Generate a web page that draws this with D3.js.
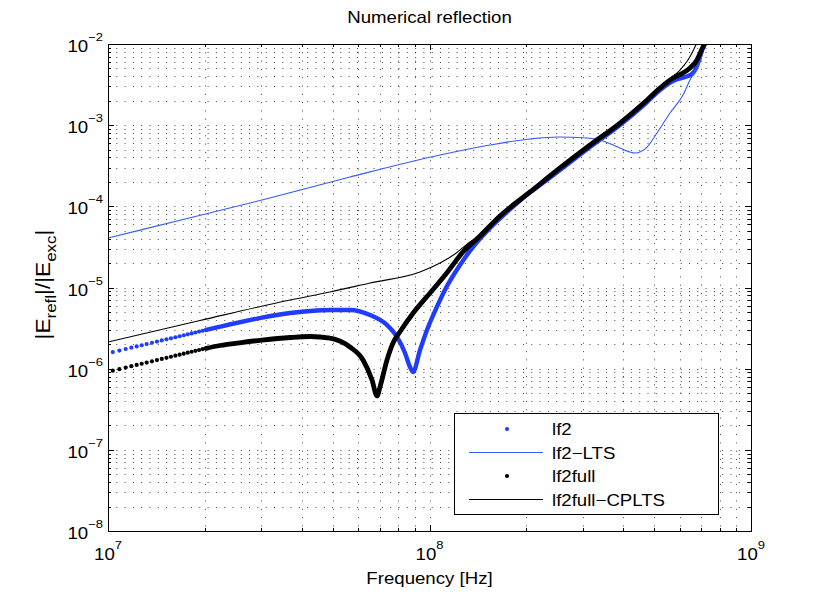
<!DOCTYPE html>
<html>
<head>
<meta charset="utf-8">
<script src="https://cdn.jsdelivr.net/npm/d3@7"></script>
<style>
  body { margin: 0; background: #fff; }
  svg text { font-family: "Liberation Sans", Arial, Helvetica, sans-serif; fill: #000; }
</style>
</head>
<body>
<div id="chart"></div>
<script>
// ---- data ----
// lf2 / lf2full: sparse leading markers (individual dots visible)
const sparseFreq = [1.035e7, 1.085e7, 1.135e7, 1.182e7, 1.228e7, 1.273e7, 1.319e7, 1.37e7, 1.42e7, 1.47e7,
  1.52e7, 1.57e7, 1.62e7, 1.67e7, 1.72e7, 1.77e7, 1.82e7, 1.87e7, 1.92e7, 1.97e7, 2.02e7]
const lf2Sparse = [1.60e-6, 1.672e-6, 1.746e-6, 1.813e-6, 1.879e-6, 1.944e-6, 2.010e-6, 2.083e-6, 2.155e-6, 2.226e-6,
  2.297e-6, 2.368e-6, 2.439e-6, 2.509e-6, 2.580e-6, 2.651e-6, 2.721e-6, 2.791e-6, 2.861e-6, 2.931e-6, 3.001e-6]
const lf2fullSparse = [9.44e-7, 9.87e-7, 1.031e-6, 1.072e-6, 1.111e-6, 1.150e-6, 1.189e-6, 1.233e-6, 1.276e-6, 1.318e-6,
  1.360e-6, 1.403e-6, 1.446e-6, 1.488e-6, 1.530e-6, 1.573e-6, 1.615e-6, 1.657e-6, 1.699e-6, 1.741e-6, 1.783e-6]

// lf2 (dense part, markers merge into a band)
const lf2Freq = [2.02e7, 2.231e7, 3.013e7, 3.683e7, 4.250e7, 4.904e7, 5.657e7, 6.531e7, 7.376e7, 7.924e7,
  8.391e7, 8.696e7, 8.886e7, 9.343e7, 9.822e7, 1.055e8, 1.125e8, 1.244e8, 1.366e8, 1.543e8,
  1.742e8, 1.953e8, 2.207e8, 2.546e8, 3.157e8, 3.913e8, 4.714e8, 5.212e8, 5.802e8, 6.233e8,
  6.554e8, 6.792e8, 7.041e8, 7.194e8]
const lf2Vals = [3.001e-6, 3.29e-6, 4.25e-6, 4.85e-6, 5.13e-6, 5.28e-6, 5.28e-6, 4.58e-6, 3.45e-6, 2.46e-6,
  1.56e-6, 1.049e-6, 9.1e-7, 1.70e-6, 3.0e-6, 5.80e-6, 9.86e-6, 1.89e-5, 3.16e-5, 5.41e-5,
  8.52e-5, 1.267e-4, 1.83e-4, 2.80e-4, 5.38e-4, 1.005e-3, 1.875e-3, 2.71e-3, 3.60e-3, 3.92e-3,
  4.27e-3, 5.36e-3, 8.44e-3, 1.0e-2]

// lf2-LTS
const ltsFreq = [1.0e7, 1.736e7, 3.013e7, 5.657e7, 1.078e8, 1.543e8, 2.054e8, 2.510e8, 3.090e8, 3.391e8,
  3.913e8, 4.358e8, 4.748e8, 5.100e8, 5.598e8, 6.144e8, 6.461e8, 6.696e8, 6.941e8, 7.194e8, 7.351e8]
const ltsVals = [4.07e-5, 6.98e-5, 1.197e-4, 2.30e-4, 4.29e-4, 5.70e-4, 6.76e-4, 7.15e-4, 6.95e-4, 6.57e-4,
  5.23e-4, 4.54e-4, 5.38e-4, 8.01e-4, 1.413e-3, 2.35e-3, 3.60e-3, 4.65e-3, 6.00e-3, 9.45e-3, 1.19e-2]

// lf2full (dense part)
const fullFreq = [2.02e7, 2.231e7, 2.6e7, 3.013e7, 3.683e7, 4.250e7, 4.904e7, 5.657e7, 6.213e7, 6.625e7,
  6.867e7, 7.015e7, 7.376e7, 7.701e7, 8.095e7, 8.886e7, 1.004e8, 1.125e8, 1.271e8, 1.436e8,
  1.657e8, 2.054e8, 2.546e8, 3.157e8, 3.913e8, 4.714e8, 5.212e8, 5.720e8, 6.144e8, 6.461e8,
  6.792e8, 7.041e8, 7.194e8]
const fullVals = [1.783e-6, 1.93e-6, 2.10e-6, 2.25e-6, 2.42e-6, 2.49e-6, 2.38e-6, 1.85e-6, 1.28e-6, 7.25e-7,
  4.61e-7, 5.95e-7, 1.28e-6, 2.07e-6, 2.85e-6, 4.81e-6, 8.56e-6, 1.467e-5, 2.74e-5, 4.31e-5,
  7.60e-5, 1.502e-4, 2.97e-4, 5.70e-4, 1.063e-3, 1.985e-3, 2.87e-3, 3.81e-3, 4.39e-3, 5.06e-3,
  6.35e-3, 8.68e-3, 1.03e-2]

// lf2full-CPLTS
const cpltsFreq = [1.0e7, 1.933e7, 3.683e7, 4.904e7, 6.531e7, 9.343e7, 1.078e8, 1.200e8, 1.337e8, 1.436e8,
  1.657e8, 2.054e8, 2.546e8, 3.157e8, 3.913e8, 4.714e8, 5.212e8, 5.598e8, 6.014e8, 6.368e8,
  6.648e8, 6.841e8]
const cpltsVals = [2.13e-6, 3.92e-6, 7.02e-6, 8.81e-6, 1.136e-5, 1.553e-5, 2.00e-5, 2.59e-5, 3.64e-5, 4.31e-5,
  7.60e-5, 1.502e-4, 2.97e-4, 5.70e-4, 1.063e-3, 1.985e-3, 2.87e-3, 3.71e-3, 4.78e-3, 6.35e-3,
  8.68e-3, 1.12e-2]

const xMajor = [1e7, 1e8, 1e9]
const xMajorExp = ["7", "8", "9"]
const yMajor = [1e-8, 1e-7, 1e-6, 1e-5, 1e-4, 1e-3, 1e-2]
const yMajorExp = ["−8", "−7", "−6", "−5", "−4", "−3", "−2"]

const legendItems = [
  { label: "lf2", color: "#1f3cff", type: "dot" },
  { label: "lf2−LTS", color: "#3558ff", type: "line" },
  { label: "lf2full", color: "#000", type: "dot" },
  { label: "lf2full−CPLTS", color: "#000", type: "line" }
]

// ---- layout ----
const width = 830, height = 598
const margin = { top: 44, right: 79, bottom: 67, left: 108 }
const innerW = width - margin.left - margin.right
const innerH = height - margin.top - margin.bottom
const fs = 16.5      // base font size
const stretch = 1.13 // the reference font runs a little wide

const x = d3.scaleLog().domain([1e7, 1e9]).range([0, innerW])
const y = d3.scaleLog().domain([1e-8, 1e-2]).range([innerH, 0])

const svg = d3.select("#chart").append("svg")
  .attr("width", width)
  .attr("height", height)

svg.append("defs").append("clipPath").attr("id", "plotClip")
  .append("rect").attr("width", innerW).attr("height", innerH)

const g = svg.append("g").attr("transform", `translate(${margin.left},${margin.top})`)

// text helper: placed with a transform so it can be stretched horizontally
const addText = (parent, tx, ty, anchor, rot) => parent.append("text")
  .attr("transform", `translate(${tx},${ty})${rot ? ` rotate(${rot})` : ""} scale(${stretch},1)`)
  .attr("text-anchor", anchor)
  .attr("font-size", fs)

// minor + major values for grid/ticks
const xAll = []
for (let d = 1e7; d < 1e9; d *= 10) for (let k = 1; k <= 9; k++) xAll.push(k * d)
xAll.push(1e9)
const yAll = []
for (let d = 1e-8; d < 1e-2 * 0.99; d *= 10) for (let k = 1; k <= 9; k++) yAll.push(k * d)
yAll.push(1e-2)
const isMajor = v => Math.abs(Math.log10(v) - Math.round(Math.log10(v))) < 1e-9

// grid (dotted)
const grid = g.append("g")
  .attr("stroke", "#000")
  .attr("stroke-width", 0.9)
  .attr("stroke-dasharray", "1,7.3")
  .attr("stroke-opacity", 0.8)
grid.selectAll("line.gx")
  .data(xAll.filter(v => v > 1e7 && v < 1e9))
  .join("line")
  .attr("x1", d => Math.round(x(d)) + 0.5).attr("x2", d => Math.round(x(d)) + 0.5)
  .attr("y1", 0).attr("y2", innerH)
grid.selectAll("line.gy")
  .data(yAll.filter(v => v > 1e-8 && v < 1e-2))
  .join("line")
  .attr("class", "gy")
  .attr("y1", d => Math.round(y(d)) + 0.5).attr("y2", d => Math.round(y(d)) + 0.5)
  .attr("x1", 0).attr("x2", innerW)

// ---- series ----
const plot = g.append("g").attr("clip-path", "url(#plotClip)")

const line = d3.line()
  .x(d => x(d[0]))
  .y(d => y(d[1]))
  .curve(d3.curveMonotoneX)

const zip = (a, b) => a.map((v, i) => [v, b[i]])

// lf2 (blue markers)
plot.append("path")
  .datum(zip(lf2Freq, lf2Vals))
  .attr("fill", "none")
  .attr("stroke", legendItems[0].color)
  .attr("stroke-width", 4.4)
  .attr("stroke-linecap", "round")
  .attr("stroke-linejoin", "round")
  .attr("d", line)
plot.append("g").attr("fill", legendItems[0].color)
  .selectAll("circle")
  .data(zip(sparseFreq, lf2Sparse))
  .join("circle")
  .attr("cx", d => x(d[0])).attr("cy", d => y(d[1])).attr("r", 2.1)

// lf2-LTS
plot.append("path")
  .datum(zip(ltsFreq, ltsVals))
  .attr("fill", "none")
  .attr("stroke", legendItems[1].color)
  .attr("stroke-width", 1.1)
  .attr("d", line)

// lf2full (black markers)
plot.append("path")
  .datum(zip(fullFreq, fullVals))
  .attr("fill", "none")
  .attr("stroke", "#000")
  .attr("stroke-width", 4.8)
  .attr("stroke-linecap", "round")
  .attr("stroke-linejoin", "round")
  .attr("d", line)
plot.append("g").attr("fill", "#000")
  .selectAll("circle")
  .data(zip(sparseFreq, lf2fullSparse))
  .join("circle")
  .attr("cx", d => x(d[0])).attr("cy", d => y(d[1])).attr("r", 2.1)

// lf2full-CPLTS
plot.append("path")
  .datum(zip(cpltsFreq, cpltsVals))
  .attr("fill", "none")
  .attr("stroke", "#000")
  .attr("stroke-width", 1.1)
  .attr("d", line)

// ---- axes box and ticks ----
const axes = g.append("g").attr("stroke", "#000").attr("stroke-width", 1)
axes.append("rect")
  .attr("x", 0.5).attr("y", 0.5)
  .attr("width", innerW).attr("height", innerH)
  .attr("fill", "none")

const tickLen = v => isMajor(v) ? 6 : 3
xAll.forEach(v => {
  const px = Math.round(x(v)) + 0.5
  axes.append("line").attr("x1", px).attr("x2", px).attr("y1", innerH).attr("y2", innerH - tickLen(v))
  axes.append("line").attr("x1", px).attr("x2", px).attr("y1", 0).attr("y2", tickLen(v))
})
yAll.forEach(v => {
  const py = Math.round(y(v)) + 0.5
  axes.append("line").attr("y1", py).attr("y2", py).attr("x1", 0).attr("x2", tickLen(v))
  axes.append("line").attr("y1", py).attr("y2", py).attr("x1", innerW).attr("x2", innerW - tickLen(v))
})

// tick labels
xMajor.forEach((v, i) => {
  const t = addText(g, x(v), innerH + 29, "middle")
  t.append("tspan").text("10")
  t.append("tspan").attr("font-size", 11.5).attr("dy", -11).text(xMajorExp[i])
})
yMajor.forEach((v, i) => {
  const t = addText(g, -5, y(v) + 8, "end")
  t.append("tspan").text("10")
  t.append("tspan").attr("font-size", 11.5).attr("dy", -11).text(yMajorExp[i])
})

// title and axis labels
addText(svg, margin.left + innerW / 2, 23, "middle").text("Numerical reflection")
addText(svg, margin.left + innerW / 2, 584, "middle").text("Frequency [Hz]")

const ylab = addText(svg, 50, margin.top + innerH / 2 - 3, "middle", -90)
  .attr("font-size", 20)
ylab.append("tspan").text("|E")
ylab.append("tspan").attr("font-size", 15).attr("dy", 6).text("refl")
ylab.append("tspan").attr("dy", -6).text("|/|E")
ylab.append("tspan").attr("font-size", 15).attr("dy", 6).text("exc")
ylab.append("tspan").attr("dy", -6).text("|")

// ---- legend ----
const lg = svg.append("g").attr("transform", "translate(454,413)")
lg.append("rect")
  .attr("x", 0.5).attr("y", 0.5)
  .attr("width", 264).attr("height", 101)
  .attr("fill", "#fff")
  .attr("stroke", "#000")
  .attr("stroke-width", 1)
const rows = lg.selectAll("g.row")
  .data(legendItems)
  .join("g")
  .attr("transform", (d, i) => `translate(0,${16 + i * 23.5})`)
rows.filter(d => d.type === "line").append("line")
  .attr("x1", 15).attr("x2", 89)
  .attr("y1", 0).attr("y2", 0)
  .attr("stroke", d => d.color)
  .attr("stroke-width", 1.1)
rows.filter(d => d.type === "dot").append("circle")
  .attr("cx", 53).attr("cy", 0).attr("r", 2.1)
  .attr("fill", d => d.color)
rows.each(function (d) {
  addText(d3.select(this), 98, 6, "start").text(d.label)
})
</script>
</body>
</html>
